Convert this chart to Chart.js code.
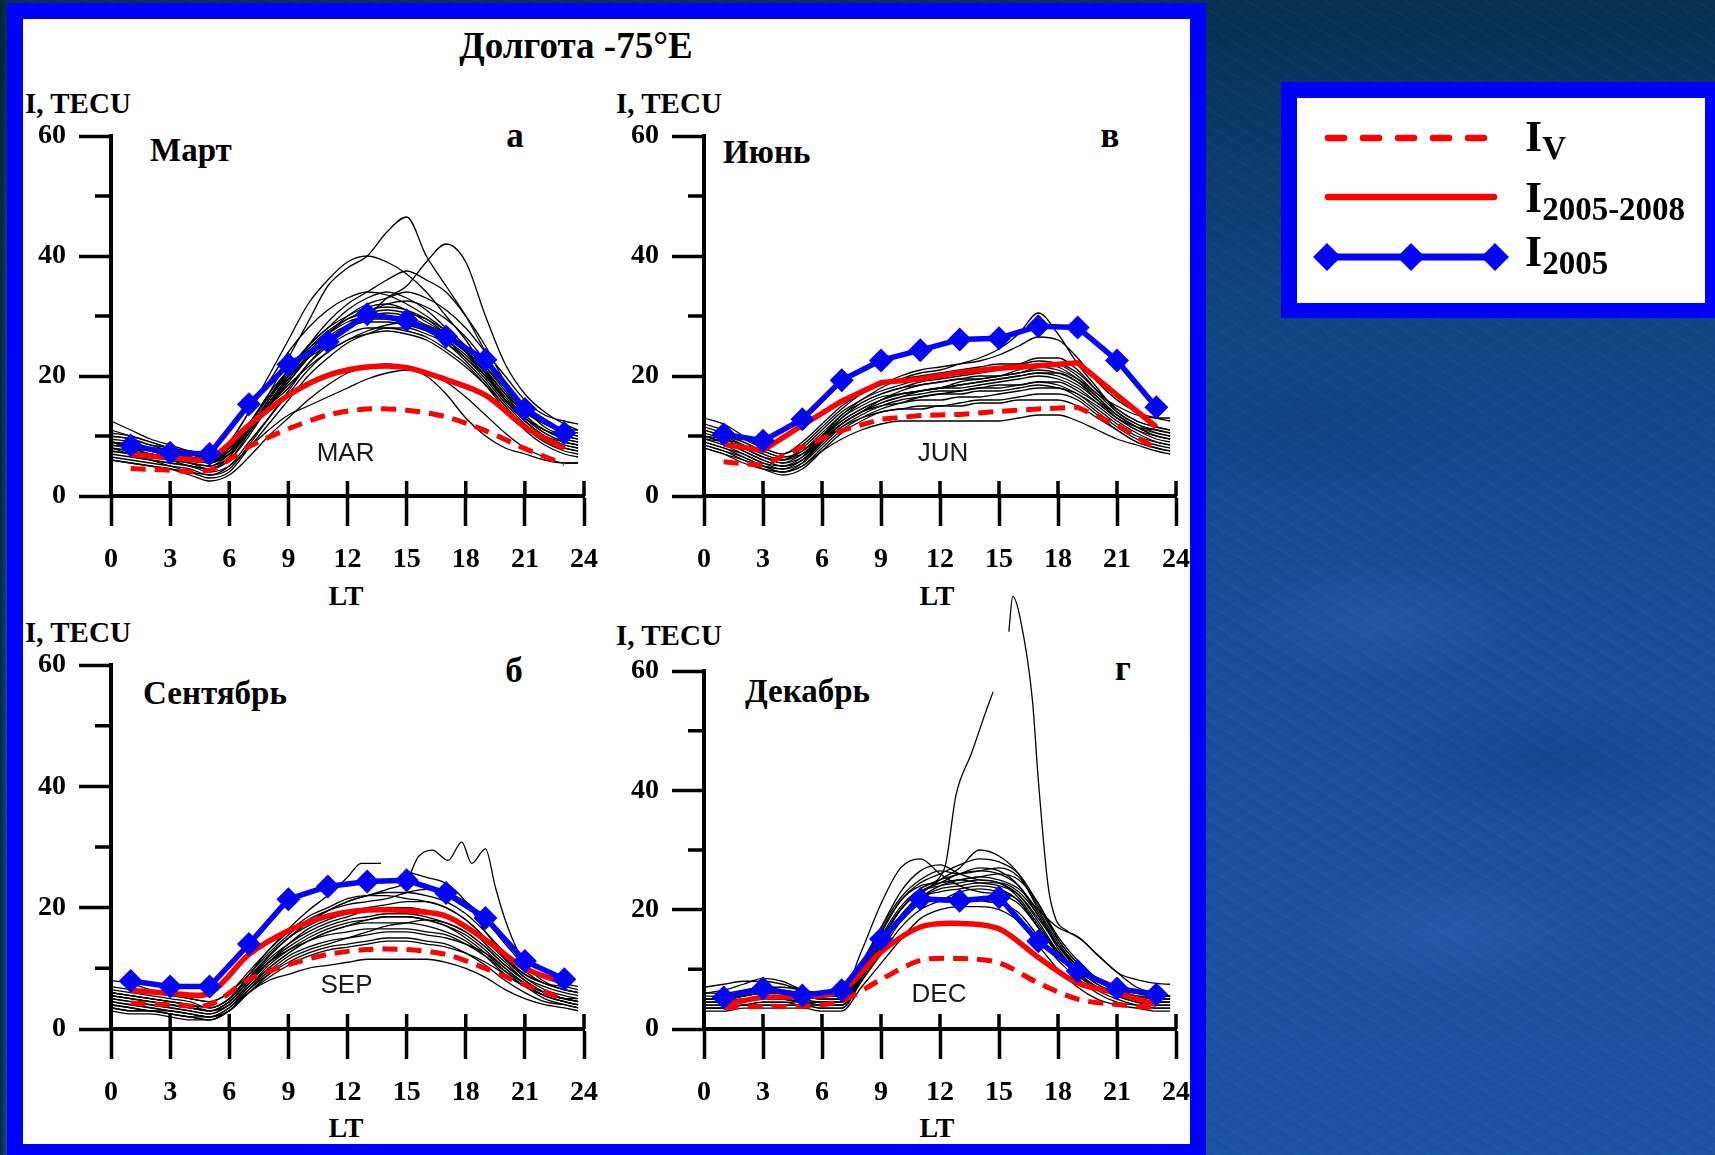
<!DOCTYPE html>
<html>
<head>
<meta charset="utf-8">
<script src="https://cdn.jsdelivr.net/npm/chart.js@4.4.1/dist/chart.umd.min.js"></script>
<style>
  html, body { margin: 0; padding: 0; }
  body {
    position: relative;
    width: 1715px; height: 1155px; overflow: hidden;
    background:
      linear-gradient(90deg, rgba(4, 34, 52, 0.9) 0px, rgba(4, 34, 52, 0) 9px),
      radial-gradient(ellipse 140px 60px at 1380px 620px, rgba(70, 130, 210, 0.18), rgba(0, 0, 0, 0)),
      radial-gradient(ellipse 180px 70px at 1560px 760px, rgba(10, 40, 110, 0.22), rgba(0, 0, 0, 0)),
      radial-gradient(ellipse 160px 60px at 1450px 930px, rgba(80, 140, 220, 0.16), rgba(0, 0, 0, 0)),
      radial-gradient(ellipse 200px 80px at 1300px 420px, rgba(10, 40, 100, 0.2), rgba(0, 0, 0, 0)),
      repeating-linear-gradient(32deg, rgba(120, 170, 235, 0.035) 0 3px, rgba(0, 0, 0, 0) 3px 9px, rgba(0, 20, 60, 0.045) 9px 14px),
      linear-gradient(180deg, #07304f 0%, #0c3b6c 14%, #124888 32%, #174f9b 55%, #1a54a2 100%);
  }
  #frame { position: absolute; left: 7px; top: 3px; width: 1199px; height: 1170px; background: #0000ff; }
  #sheet { position: absolute; left: 23px; top: 19px; width: 1167px; height: 1125px; background: #fff; }
  canvas.panel { position: absolute; }
  .t {
    position: absolute; font-family: "Liberation Serif", "Times New Roman", serif;
    font-weight: bold; line-height: 1; white-space: nowrap; color: #000;
  }
  .c { transform: translateX(-50%); }
  .note {
    position: absolute; font-family: "Liberation Sans", Arial, sans-serif;
    font-size: 26px; line-height: 1; color: #1a1a1a; white-space: nowrap;
    transform: translateX(-50%);
  }
  #legendFrame { position: absolute; left: 1281px; top: 82px; width: 440px; height: 236px; background: #0000ff; }
  #legendBox { position: absolute; left: 1297px; top: 98px; width: 408px; height: 205px; background: #fff; }
  #legendKeys { position: absolute; left: 1297px; top: 98px; }
  .lg { font-size: 44px; }
  .lg span { font-size: 33px; position: relative; top: 8px; }
</style>
</head>
<body>
<div id="frame"></div>
<div id="sheet"></div>

<div class="t c" style="left:576px; top:27px; font-size:37px;">Долгота -75°E</div>

<div class="t" style="left:25px; top:89px; font-size:29px;">I, TECU</div>
<div class="t" style="left:616px; top:89px; font-size:29px;">I, TECU</div>
<div class="t" style="left:25px; top:618px; font-size:29px;">I, TECU</div>
<div class="t" style="left:616px; top:621px; font-size:29px;">I, TECU</div>

<div class="t" style="left:150px; top:134px; font-size:33px;">Март</div>
<div class="t" style="left:723px; top:136px; font-size:33px;">Июнь</div>
<div class="t" style="left:143px; top:677px; font-size:33px;">Сентябрь</div>
<div class="t" style="left:745px; top:675px; font-size:33px;">Декабрь</div>

<div class="t c" style="left:515px; top:118px; font-size:35px;">а</div>
<div class="t c" style="left:1110px; top:118px; font-size:35px;">в</div>
<div class="t c" style="left:514px; top:653px; font-size:35px;">б</div>
<div class="t c" style="left:1123px; top:651px; font-size:35px;">г</div>

<div class="t c" style="left:346px; top:582px; font-size:28px;">LT</div>
<div class="t c" style="left:937px; top:582px; font-size:28px;">LT</div>
<div class="t c" style="left:346px; top:1114px; font-size:28px;">LT</div>
<div class="t c" style="left:937px; top:1114px; font-size:28px;">LT</div>

<canvas class="panel" id="chartMar"></canvas>
<canvas class="panel" id="chartJun"></canvas>
<canvas class="panel" id="chartSep"></canvas>
<canvas class="panel" id="chartDec"></canvas>

<div id="legendFrame"></div>
<div id="legendBox"></div>
<canvas id="legendKeys" width="408" height="205"></canvas>
<div class="t lg" style="left:1525px; top:115px;">I<span>V</span></div>
<div class="t lg" style="left:1525px; top:176px;">I<span>2005-2008</span></div>
<div class="t lg" style="left:1525px; top:230px;">I<span>2005</span></div>

<script>
// местное время, ч
const HOURS = [0, 1, 2, 3, 4, 5, 6, 7, 8, 9, 10, 11, 12, 13, 14, 15, 16, 17, 18, 19, 20, 21, 22, 23, 23.7];
const HOURS_ODD = [1, 3, 5, 7, 9, 11, 13, 15, 17, 19, 21, 23];
const X_TICKS = [0, 3, 6, 9, 12, 15, 18, 21, 24];
const Y_LABELS = [0, 20, 40, 60];

// Март
const marIV = [4.6, 4.3, 4.3, 8.2, 11.2, 13.5, 14.5, 14.3, 13.2, 10.9, 7.9, 5.3];
const marI0508 = [6.9, 6.4, 6.25, 11.8, 16.8, 20.1, 21.5, 21.4, 19.4, 16.8, 11.5, 7.9];
const marI2005 = [8.4, 7.2, 7.0, 15.3, 21.9, 25.7, 30.3, 29.3, 26.6, 22.7, 14.5, 10.5];
const marDays = [
  [9, 8.5, 7.5, 6.5, 6, 5.5, 8, 12, 17, 23, 29, 35, 38, 40, 44, 46.5, 40, 35, 30, 24, 18, 14, 12, 10.5, 10],
  [10, 9.5, 8.5, 8, 7, 6.5, 8, 11, 15, 18, 22, 25, 28, 30, 33, 35, 39, 42, 39, 30, 22, 17, 14, 12, 11],
  [12.5, 11, 9.5, 8.5, 7.5, 7, 9, 14, 20, 26, 32, 36, 39, 40, 39, 37, 34, 30, 26, 21, 16, 13, 11, 10, 9.5],
  [8, 7.5, 7, 6, 5, 4.5, 6, 10, 15, 20, 25, 29, 32, 34, 36, 37.5, 36, 34, 30, 25, 19, 15, 12.5, 11, 11],
  [9, 8, 7.5, 7, 6.5, 6, 8, 12, 17, 21, 25, 28, 31, 33, 34, 33, 31, 28, 25, 21, 17, 13, 10.5, 9, 8.5],
  [7, 6.5, 6, 5.5, 5, 4.5, 6.5, 11, 15, 19, 23, 26, 28, 29.5, 30, 29.5, 28, 26, 23, 19.5, 15.5, 12, 9.5, 8, 7.5],
  [8.5, 8, 7, 6.5, 6, 5.5, 7.5, 12, 16.5, 20, 23, 25, 27, 28, 28, 27.5, 26.5, 24.5, 22, 18.5, 14.5, 11.5, 9, 8, 7.5],
  [6, 5.5, 5, 4.5, 4, 3.5, 5, 9, 13, 17, 21, 24, 26, 27, 27.5, 27, 26, 24, 21.5, 18.5, 15, 11, 8.5, 7, 6.5],
  [10, 9.5, 8.5, 7.5, 7, 6.5, 7.5, 11, 16, 21, 25, 28, 30, 31.5, 32, 31, 29, 27, 24, 21, 17, 14, 12, 10.5, 10],
  [7.5, 7, 6, 5, 4, 3, 4, 8, 12, 16, 20, 23, 25.5, 27, 28, 28, 27, 25.5, 23, 20, 16, 12.5, 10, 8.5, 8],
  [6, 5.5, 5, 4.5, 3.5, 2.5, 3.5, 6.5, 10, 13, 16, 18.5, 20.5, 21.5, 22, 21.5, 20.5, 19, 16.5, 13.5, 10.5, 8, 6.5, 5.5, 5.5],
  [8, 7, 6, 5.5, 5, 4, 5, 8, 11, 13.5, 15, 16.5, 18, 19.5, 20.5, 21, 20, 17, 13, 10, 8, 7, 6, 5.5, 5.5],
  [9, 8.5, 8, 7.5, 7, 6.5, 9, 14, 19, 24, 28, 31, 33, 34, 33.5, 32, 30, 27.5, 24, 20, 16, 13, 11, 9.5, 9],
  [11, 10, 9, 8, 7.5, 7, 8, 11, 15, 19, 23, 27, 30, 32, 33, 34, 33, 31, 28, 24, 20, 16, 13.5, 12.5, 12],
  [8, 7.5, 6.5, 6, 5.5, 5, 7, 11.5, 16, 20.5, 24.5, 27.5, 29.5, 30.5, 31, 30.5, 29.5, 27.5, 24.5, 20.5, 16, 12.5, 10, 9, 8.5],
  [9.5, 9, 8, 7, 6.5, 6, 7.5, 12, 16.5, 21, 24.5, 27, 29, 30, 30.5, 30, 28.5, 26.5, 24, 21.5, 18, 14.5, 11.5, 10, 9.5],
  [7.5, 7, 6.5, 6, 5.5, 4.5, 6, 10.5, 15.5, 20, 24, 27, 29.5, 31, 31.5, 31, 29.5, 27, 24, 20.5, 16.5, 13, 10.5, 9, 8.5],
  [8.5, 8, 7, 6.5, 5.5, 5, 6.5, 11, 15.5, 19.5, 23.5, 26.5, 28.5, 29.5, 29.5, 29, 28, 26, 23.5, 20, 16, 12.5, 10, 8.5, 8],
  [10.5, 10, 9, 8, 7, 6, 7, 10.5, 15, 19.5, 23, 26, 28.5, 30.5, 32, 32.5, 31.5, 29.5, 26.5, 22.5, 18.5, 15, 12.5, 11, 10.5],
  [6.5, 6, 5.5, 5, 4.5, 3.5, 4.5, 8.5, 13, 17.5, 22, 25.5, 28, 29, 29, 28.5, 27.5, 25.5, 22.5, 19, 15, 11.5, 9, 7.5, 7],
  [9, 8.5, 7.5, 7, 6.5, 5.5, 7, 11, 15, 18.5, 21.5, 24, 26, 27.5, 28.5, 29, 28.5, 27, 25, 21.5, 17.5, 13.5, 11, 9.5, 9]
];

// Июнь
const junIV = [5.7, 5.1, 8.2, 10.9, 12.8, 13.4, 13.6, 14.1, 14.5, 14.8, 11.8, 7.9];
const junI0508 = [8.6, 7.6, 11.8, 15.8, 18.9, 19.5, 20.6, 21.3, 21.7, 22.2, 16.8, 11.5];
const junI2005 = [10.3, 9.2, 12.8, 19.3, 22.6, 24.3, 26.1, 26.3, 28.3, 28.1, 22.6, 14.8];
const junDays = [
  [10, 9, 8, 6.5, 6, 8, 11, 14, 16, 18, 19.5, 20.5, 21, 22, 23, 24.5, 27, 30.5, 27, 22, 18, 14, 12, 11, 10.5],
  [12, 11, 9.5, 8, 7, 8.5, 11.5, 14.5, 17, 18.5, 20, 21, 21.5, 22, 22.5, 23.5, 25, 26.5, 26, 23, 19, 16, 14, 13, 12.5],
  [11, 10, 8.5, 7, 6, 7.5, 10.5, 13.5, 16, 17.5, 18.5, 19.5, 20, 20.5, 21, 21.5, 22, 23, 23, 21, 17.5, 14.5, 12.5, 11.5, 11],
  [8, 7, 5.5, 4.5, 4, 5, 7.5, 9.5, 11, 12, 12.5, 12.5, 12.5, 12.5, 12.5, 12.5, 13, 13.5, 13.5, 12.5, 11, 9.5, 8.5, 7.5, 7],
  [9, 8, 6.5, 5, 4, 5.5, 9, 12, 14, 15, 15.5, 16, 16, 16.5, 16.5, 17, 17.5, 18, 18, 16.5, 14, 11.5, 9.5, 8.5, 8],
  [10, 9, 7.5, 6, 5, 6.5, 10, 13, 15.5, 17, 18, 18.5, 19, 19.5, 20, 20, 20.5, 21, 20.5, 19, 16.5, 13.5, 11.5, 10, 9.5],
  [8.5, 7.5, 6, 4.5, 3.5, 4.5, 7.5, 10.5, 12.5, 14, 14.5, 15, 15, 15.5, 16, 16, 16.5, 17, 17, 16, 13.5, 11, 9, 8, 7.5],
  [11, 10, 9, 7.5, 6.5, 7.5, 10, 12.5, 14.5, 16, 17, 17.5, 18, 18, 18.5, 19, 19.5, 20, 19.5, 18, 15.5, 13, 11.5, 11, 10.5],
  [13, 12, 10, 8, 7, 9, 12, 15, 17, 18.5, 19.5, 20, 20.5, 21, 21.5, 22, 22, 22.5, 22, 20, 17, 15, 13.5, 13, 13],
  [9.5, 8.5, 7, 5.5, 4.5, 5.5, 8.5, 11.5, 13.5, 15, 16, 16.5, 17, 17.5, 18, 18, 18.5, 19, 18.5, 17, 15, 12.5, 10.5, 9, 8.5],
  [10.5, 9.5, 8, 6.5, 5.5, 7, 10, 13.5, 15.5, 17, 18, 19, 19.5, 20, 20.5, 21, 21.5, 21.5, 21, 19.5, 17, 14, 12, 10.5, 10],
  [8, 7, 6, 5, 4.5, 6, 9, 11.5, 13, 14, 14.5, 14.5, 15, 15, 15.5, 15.5, 16, 16, 16, 15, 13, 11, 9, 8, 7.5],
  [9, 8, 7, 5.5, 5, 6, 9.5, 12.5, 14.5, 16, 17, 17.5, 18, 18.5, 19, 19.5, 20, 20.5, 20, 18.5, 16, 13, 11, 9.5, 9],
  [10, 9.5, 8.5, 7, 6, 7, 9.5, 12, 14, 15.5, 16.5, 17, 17.5, 17.5, 18, 18.5, 18.5, 19, 19, 17.5, 15.5, 13, 11, 10, 9.5],
  [9.5, 9, 7.5, 6, 5, 6, 9, 12, 14, 15.5, 16.5, 17.5, 18, 18.5, 19, 19.5, 20, 20.5, 20.5, 19, 16, 13.5, 11.5, 10, 9.5],
  [11.5, 10.5, 9, 7.5, 6.5, 7, 9.5, 12, 14, 16, 17.5, 18.5, 19, 19.5, 19.5, 20, 20.5, 21.5, 22, 20.5, 17.5, 14.5, 12.5, 11.5, 11],
  [8.5, 7.5, 6.5, 5, 4, 5, 8, 11, 13, 14.5, 15.5, 16.5, 17, 17, 17.5, 17.5, 18, 18.5, 18, 17, 14.5, 12, 10, 9, 8.5],
  [10, 9, 8, 6.5, 5.5, 6.5, 9.5, 13, 15, 16.5, 17, 17.5, 18, 19, 19.5, 20, 21, 22, 21.5, 19.5, 16.5, 13.5, 11.5, 10.5, 10]
];

// Сентябрь
const sepIV = [4.3, 4.0, 4.0, 8.2, 10.6, 12.3, 13.1, 13.1, 12.3, 10.0, 7.3, 4.9];
const sepI0508 = [6.4, 5.9, 5.9, 12.3, 16.2, 18.6, 19.6, 19.5, 18.6, 14.7, 10.0, 7.6];
const sepI2005 = [7.9, 7.0, 7.0, 14.0, 21.4, 23.5, 24.3, 24.5, 22.4, 18.3, 11.2, 8.2];
const sepDays = [
  [6, 5.5, 5, 4.5, 4, 3.5, 5, 8.5, 12, 15, 17.5, 19.5, 21, 22, 22.5, 22.5, 22, 21, 19, 16, 12.5, 9.5, 7.5, 6.5, 6],
  [4, 3.5, 3, 2.5, 2, 1.5, 3, 6.5, 9, 11, 12.5, 13.5, 14, 14.5, 15, 15, 14.5, 14, 12.5, 10.5, 8, 6, 4.5, 4, 3.5],
  [3, 2.5, 2.5, 2, 1.5, 1.5, 3, 6, 8, 9, 10, 10.5, 11, 11.5, 11.5, 11.5, 11.5, 11, 10, 8.5, 6.5, 5, 4, 3.5, 3],
  [5, 4.5, 4, 3.5, 3, 2.5, 4, 7.5, 11, 13.5, 15.5, 17, 18, 18.5, 19, 19, 18.5, 17.5, 16, 13.5, 10.5, 8, 6, 5, 4.5],
  [7, 6.5, 6, 5.5, 5, 4.5, 6, 9.5, 13, 16, 18.5, 20, 21.5, 22, 22, 21.5, 21, 20, 18, 15, 11.5, 9, 7.5, 7, 6.5],
  [4.5, 4, 3.5, 3, 2.5, 2, 3.5, 7, 10, 12.5, 14.5, 16, 17, 17.5, 17.5, 17.5, 17, 16, 14.5, 12, 9, 7, 5.5, 4.5, 4],
  [6, 5.5, 5, 4.5, 4, 3, 4.5, 8, 11.5, 14, 16, 17.5, 18.5, 19.5, 20, 20, 19.5, 18.5, 17, 14.5, 11.5, 8.5, 6.5, 5.5, 5],
  [5.5, 5, 4.5, 4, 3.5, 3, 4.5, 8, 11, 13, 14.5, 15.5, 16, 16.5, 16.5, 16.5, 16, 15.5, 14, 12, 9.5, 7.5, 6, 5, 4.5],
  [8, 7.5, 6.5, 6, 5, 4.5, 6, 9, 12.5, 15.5, 18, 19.5, 20.5, 21, 21.5, 22.5, 23, 22.5, 21, 18, 14, 10.5, 8.5, 7.5, 7],
  [3.5, 3, 3, 2.5, 2, 2, 3.5, 6.5, 9.5, 12, 13.5, 14.5, 15, 15.5, 16, 16, 15.5, 15, 14, 12.5, 10, 7.5, 5.5, 4.5, 4],
  [5, 4.5, 4, 3.5, 3, 2.5, 4, 7, 10.5, 13, 15, 16.5, 17.5, 18, 18.5, 18.5, 18, 17, 15.5, 13, 10, 7.5, 6, 5, 4.5],
  [4, 3.5, 3, 3, 2.5, 2, 3, 6, 9, 11.5, 13, 14, 15, 16, 17, 17.5, 18, 17.5, 16, 13.5, 10.5, 8, 6, 5, 4.5],
  [5.5, 5, 4.5, 4, 3.5, 3, 4, 7.5, 11, 14, 16.5, 18, 19, 19.5, 20, 20, 19.5, 18.5, 17, 14, 11, 8, 6, 5, 5],
  [4.5, 4, 3.5, 3, 2.5, 2, 3, 6.5, 10, 12.5, 14.5, 16, 17, 18, 18.5, 18.5, 18, 17, 15, 12.5, 9.5, 7, 5.5, 4.5, 4],
  [6.5, 6, 5.5, 5, 4.5, 3.5, 5, 8.5, 12, 15, 17, 18.5, 19.5, 20, 20.5, 21, 21, 20, 18, 15, 11.5, 8.5, 7, 6, 5.5],
  [3.5, 3, 3, 2.5, 2, 1.5, 3, 6, 8.5, 10.5, 12, 13, 13.5, 14, 14.5, 14.5, 14, 13.5, 12.5, 11, 9, 7, 5, 4, 3.5]
];
// два дня с вечерним всплеском
const sepBurstHours = [0, 2, 4, 5, 6, 7, 8, 9, 10, 11, 12, 13, 14, 15, 15.6, 16.3, 17.1, 17.8, 18.3, 19, 19.5, 20, 20.7, 21.5, 22.5, 23.7];
const sepBurstValues = [5.5, 4.5, 3.5, 3, 4.5, 8, 12, 15, 17.5, 19.5, 21, 22, 23, 24.5, 28.4, 29.5, 27.8, 30.8, 27.3, 29.7, 23.4, 18, 12.5, 9, 7, 6];
const sepGapHours = [0, 1, 2, 3, 4, 5, 6, 7, 8, 9, 10, 11, 12, 12.7, 13.7, 14.3, 14.9, 15.5, 16, 17, 18, 19, 20, 21, 22, 23, 23.7];
const sepGapValues = [6, 5.5, 5, 4.5, 4, 3.5, 5, 9, 13, 16.5, 19.5, 22, 25, 27.3, 27.3, null, 26, 25.5, 25, 24, 21, 16, 12, 9, 7.5, 6.5, 6];

// Декабрь
const decIV = [3.6, 3.8, 3.8, 4.7, 8.3, 11.5, 11.8, 11.1, 7.7, 5.0, 4.1, 3.6];
const decI0508 = [4.1, 5.3, 5.4, 6.4, 12.9, 17.1, 17.7, 16.8, 12.0, 7.7, 6.0, 4.1];
const decI2005 = [5.3, 6.8, 5.6, 6.5, 15.1, 21.8, 21.5, 22.1, 14.7, 9.7, 6.8, 5.8];
const decDays = [
  [4.5, 4.5, 5, 5.5, 5, 4.5, 4.5, 4.5, 9, 14, 19, 22, 23, 23.5, 24, 23.5, 21.5, 17, 12.5, 9, 7, 5.5, 5, 4.5, 4.5],
  [6, 6.5, 7.5, 8.5, 8, 6.5, 5.5, 5.5, 11, 17, 23, 26.5, 27.5, 26, 25, 24.5, 22, 17.5, 13, 10, 8, 6.5, 6, 5.5, 5.5],
  [3, 3, 3.5, 3.5, 3.5, 3.5, 3, 3, 7, 11, 15, 18.5, 20, 20.5, 20.5, 20, 18, 14, 10, 7, 5, 4, 3.5, 3, 3],
  [5, 5, 5.5, 6, 6, 5.5, 5, 5, 10, 15.5, 20.5, 23.5, 25, 26, 27, 26.5, 24, 19, 14, 10.5, 8, 6.5, 5.5, 5, 5],
  [4, 4, 4.5, 5, 5, 4.5, 4, 4, 8.5, 14, 19, 22.5, 25, 27, 30, 29, 26, 20, 14.5, 10.5, 7.5, 6, 5, 4.5, 4.5],
  [3.5, 3.5, 4, 4, 4, 4, 3.5, 3.5, 8, 13, 18, 21, 22, 22, 21.5, 21, 19.5, 15.5, 11.5, 8.5, 6, 4.5, 4, 3.5, 3.5],
  [7, 7.5, 8, 8, 7.5, 6.5, 6, 6, 13, 21, 27, 28.5, 26, 24, 23, 22.5, 21, 17, 13, 10, 7.5, 6, 5.5, 5.5, 5.5],
  [4.5, 4.5, 5, 5, 5, 4.5, 4.5, 4.5, 8.5, 13.5, 18.5, 22, 24, 25, 25.5, 25, 23.5, 20, 17, 15.5, 12.5, 9.5, 7, 6, 5.5],
  [5.5, 5.5, 6, 6.5, 6.5, 6, 5.5, 5.5, 10.5, 16.5, 21.5, 24.5, 26, 27.5, 28.5, 28, 26, 21, 15.5, 11.5, 8.5, 7, 6, 5.5, 5.5],
  [4, 4, 4, 4.5, 4.5, 4, 4, 4, 9, 15, 20, 23, 24, 24.5, 25, 24.5, 22.5, 18, 13, 9.5, 7, 5.5, 4.5, 4, 4],
  [5, 5, 5, 5.5, 5.5, 5, 4.5, 4.5, 9.5, 15, 20, 23, 24.5, 25, 25.5, 26, 25, 21, 15, 11, 8, 6.5, 5.5, 5, 5],
  [3.5, 3.5, 4, 4.5, 4.5, 4.5, 4, 4, 8, 12.5, 17, 20, 21.5, 23, 23.5, 23, 21.5, 17, 12.5, 9, 6.5, 5, 4, 3.5, 3.5],
  [4.5, 4.5, 5, 5, 5, 4.5, 4, 4, 9, 14.5, 20, 23, 24.5, 26, 26.5, 26, 24, 19.5, 14, 10, 7.5, 6, 5, 4.5, 4.5],
  [5, 5, 5.5, 6, 6, 5.5, 5, 5, 10, 16, 21.5, 24, 24.5, 25, 24.5, 24, 22.5, 18.5, 14, 10.5, 8, 6.5, 5.5, 5, 5],
  [3.5, 3.5, 4, 4, 4, 4, 3.5, 3.5, 8.5, 14, 19, 22, 23.5, 24, 24.5, 24.5, 23, 19, 13.5, 9.5, 7, 5.5, 4.5, 4, 4],
  [6, 6, 6.5, 7, 7, 6.5, 6, 6, 11, 17, 22, 25, 26.5, 26, 26.5, 27, 25.5, 20.5, 15, 11, 8.5, 7, 6, 5.5, 5.5]
];
// день с возмущением (пропуск в данных около 15 ч)
const decStormHours = [0, 1, 2, 3, 4, 5, 6, 7, 8, 9, 10, 11, 12, 12.3, 12.8, 13.6, 14.3, 14.7, 15.1, 15.5, 15.7, 16.1, 16.7, 17, 17.5, 17.9, 18.4, 19.2, 20.1, 21.1, 22.1, 23.1, 23.7];
const decStormValues = [5, 5, 5.5, 6, 6, 5.5, 5, 5, 9.5, 15, 20, 23.5, 25.5, 27.8, 39, 46.2, 52.9, 56.5, null, 66.6, 72.5, 68.5, 55.1, 41.7, 23.9, 18.3, 16.6, 14.9, 12.1, 9.3, 8.2, 7.6, 7.5];

const RED = '#ff0000';
const BLUE = '#0505f5';
const PAD_L = 100, PAD_T = 100, PAD_R = 30, PAD_B = 80;
const tickFont = { family: 'Liberation Serif', size: 28, weight: 'bold' };

function toPoints(xs, ys) {
  return xs.map((x, i) => ({ x: x, y: ys[i] }));
}

function zeroPadding(scale) {
  scale.paddingLeft = 0;
  scale.paddingRight = 0;
  scale.paddingTop = 0;
  scale.paddingBottom = 0;
}

// короткие засечки: над осью LT и промежуточные по оси I
const extraTicks = {
  id: 'extraTicks',
  beforeDatasetsDraw(chart) {
    const { ctx, chartArea, scales: { x, y } } = chart;
    ctx.save();
    ctx.strokeStyle = '#000';
    ctx.lineWidth = 3.5;
    ctx.beginPath();
    X_TICKS.slice(1).forEach(v => {
      const px = x.getPixelForValue(v);
      ctx.moveTo(px, chartArea.bottom);
      ctx.lineTo(px, chartArea.bottom - 15);
    });
    y.ticks.forEach(t => {
      if (Y_LABELS.includes(t.value)) return;
      const py = y.getPixelForValue(t.value);
      ctx.moveTo(chartArea.left - 16, py);
      ctx.lineTo(chartArea.left, py);
    });
    ctx.stroke();
    ctx.restore();
  }
};

function makePanel(canvasId, area, days, extra, iv, i0508, i2005, redTension, note) {
  const canvas = document.getElementById(canvasId);
  const w = area.right - area.left + PAD_L + PAD_R;
  const h = area.bottom - area.top + PAD_T + PAD_B;
  canvas.width = w;
  canvas.height = h;
  canvas.style.width = w + 'px';
  canvas.style.height = h + 'px';
  canvas.style.left = (area.left - PAD_L) + 'px';
  canvas.style.top = (area.top - PAD_T) + 'px';

  const datasets = [
    {
      data: toPoints(HOURS_ODD, i2005),
      borderColor: BLUE, borderWidth: 5.5, tension: 0,
      pointStyle: 'rectRot', pointRadius: 12, pointBackgroundColor: BLUE, pointBorderWidth: 0,
      order: 0
    },
    {
      data: toPoints(HOURS_ODD, i0508),
      borderColor: RED, borderWidth: 5.5, tension: redTension, pointRadius: 0,
      order: 1
    },
    {
      data: toPoints(HOURS_ODD, iv),
      borderColor: RED, borderWidth: 5, borderDash: [15, 9], tension: redTension, pointRadius: 0,
      order: 2
    }
  ];
  days.forEach(d => datasets.push({
    data: toPoints(HOURS, d),
    borderColor: '#000', borderWidth: 1.3, pointRadius: 0,
    cubicInterpolationMode: 'monotone', clip: false, order: 3
  }));
  extra.forEach(e => datasets.push({
    data: toPoints(e[0], e[1]),
    borderColor: '#000', borderWidth: 1.3, pointRadius: 0, spanGaps: false,
    cubicInterpolationMode: 'monotone', clip: false, order: 3
  }));

  const chart = new Chart(canvas, {
    type: 'line',
    data: { datasets: datasets },
    options: {
      responsive: false,
      animation: false,
      events: [],
      layout: { padding: { left: 0, top: PAD_T, right: PAD_R, bottom: 0 } },
      plugins: { legend: { display: false }, tooltip: { enabled: false } },
      scales: {
        x: {
          type: 'linear', min: 0, max: 24,
          afterFit: s => { s.height = PAD_B; zeroPadding(s); },
          afterBuildTicks: s => { s.ticks = X_TICKS.map(v => ({ value: v })); },
          ticks: { font: tickFont, color: '#000', padding: 17, maxRotation: 0, autoSkip: false },
          grid: { drawOnChartArea: false, tickLength: 30, tickWidth: 3.5, tickColor: '#000' },
          border: { display: true, width: 4, color: '#000' }
        },
        y: {
          type: 'linear', min: 0, max: 60,
          afterFit: s => { s.width = PAD_L; zeroPadding(s); },
          ticks: {
            stepSize: 10, font: tickFont, color: '#000', padding: 13, autoSkip: false,
            callback: v => Y_LABELS.includes(v) ? v : ''
          },
          grid: {
            drawOnChartArea: false, tickLength: 32, tickWidth: 3.5,
            tickColor: c => (c.tick && Y_LABELS.includes(c.tick.value)) ? '#000' : 'rgba(0,0,0,0)'
          },
          border: { display: true, width: 4, color: '#000' }
        }
      }
    },
    plugins: [extraTicks]
  });

  // подпись месяца внутри поля графика
  const label = document.createElement('div');
  label.className = 'note';
  label.textContent = note.text;
  const px = chart.scales.x.getPixelForValue(note.hour) + area.left - PAD_L;
  const py = chart.scales.y.getPixelForValue(note.value) + area.top - PAD_T;
  label.style.left = px + 'px';
  label.style.top = (py - 0.49 * 26) + 'px';
  document.body.appendChild(label);
  return chart;
}

makePanel('chartMar', { left: 111, top: 136, right: 584, bottom: 496 },
  marDays, [], marIV, marI0508, marI2005, 0.3, { text: 'MAR', hour: 11.9, value: 7.4 });
makePanel('chartJun', { left: 704, top: 136, right: 1176, bottom: 496 },
  junDays, [], junIV, junI0508, junI2005, 0, { text: 'JUN', hour: 12.15, value: 7.4 });
makePanel('chartSep', { left: 111, top: 665, right: 584, bottom: 1029 },
  sepDays, [[sepBurstHours, sepBurstValues], [sepGapHours, sepGapValues]],
  sepIV, sepI0508, sepI2005, 0.3, { text: 'SEP', hour: 11.95, value: 7.4 });
makePanel('chartDec', { left: 704, top: 671, right: 1176, bottom: 1029 },
  decDays, [[decStormHours, decStormValues]], decIV, decI0508, decI2005, 0.3,
  { text: 'DEC', hour: 11.95, value: 6.0 });

// образцы линий легенды
(function drawLegendKeys() {
  const ctx = document.getElementById('legendKeys').getContext('2d');
  ctx.lineWidth = 6.5;
  ctx.strokeStyle = RED;
  ctx.lineCap = 'round';
  ctx.setLineDash([16, 19]);
  ctx.beginPath();
  ctx.moveTo(31, 40);
  ctx.lineTo(188, 40);
  ctx.stroke();
  ctx.setLineDash([]);
  ctx.beginPath();
  ctx.moveTo(31, 99);
  ctx.lineTo(197, 99);
  ctx.stroke();
  ctx.lineCap = 'butt';
  ctx.strokeStyle = BLUE;
  ctx.lineWidth = 7;
  ctx.beginPath();
  ctx.moveTo(30, 159);
  ctx.lineTo(198, 159);
  ctx.stroke();
  ctx.fillStyle = BLUE;
  [30, 114, 198].forEach(cx => {
    ctx.beginPath();
    ctx.moveTo(cx - 14, 159);
    ctx.lineTo(cx, 145);
    ctx.lineTo(cx + 14, 159);
    ctx.lineTo(cx, 173);
    ctx.closePath();
    ctx.fill();
  });
})();
</script>
</body>
</html>
